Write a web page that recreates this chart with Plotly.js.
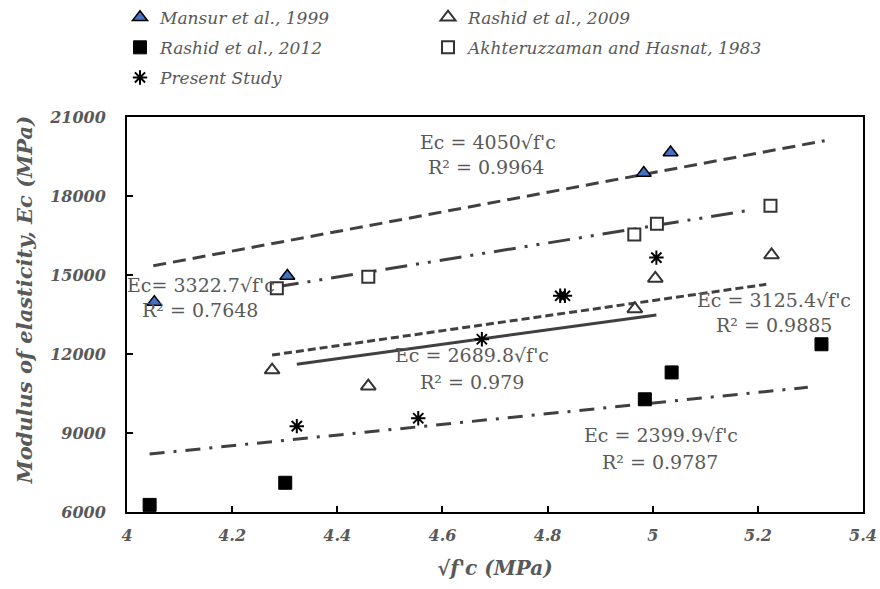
<!DOCTYPE html>
<html>
<head>
<meta charset="utf-8">
<script src="https://cdn.plot.ly/plotly-3.0.1.min.js"></script>
<style>html,body{margin:0;padding:0;background:#fff;}#chart{width:880px;height:589px;}</style>
</head>
<body>
<div id="chart"></div>
<script>
// ---- data ----
const seriesNames = ["Mansur et al., 1999", "Rashid et al., 2009", "Rashid et al., 2012", "Akhteruzzaman and Hasnat, 1983", "Present Study"];

const mansurX = [4.052, 4.305, 4.983, 5.034];
const mansurY = [13970, 14960, 18870, 19650];

const rashid2009X = [4.276, 4.459, 4.966, 5.005, 5.226];
const rashid2009Y = [11390, 10780, 13710, 14870, 15760];

const rashid2012X = [4.043, 4.301, 4.985, 5.036, 5.321];
const rashid2012Y = [6270, 7110, 10280, 11300, 12370];

const akhterX = [4.285, 4.459, 4.965, 5.008, 5.224];
const akhterY = [14500, 14930, 16540, 16950, 17630];

const presentX = [4.323, 4.554, 4.675, 4.824, 4.833, 5.007];
const presentY = [9260, 9560, 12560, 14210, 14210, 15660];

// trendline end points
const trendMansurX = [4.05, 5.327];   const trendMansurY = [15350, 20100];
const trendAkhterX = [4.285, 5.188];  const trendAkhterY = [14550, 17470];
const trendR2009X = [4.276, 5.216];   const trendR2009Y = [11960, 14645];
const trendPresentX = [4.323, 5.007]; const trendPresentY = [11610, 13480];
const trendR2012X = [4.043, 5.295];   const trendR2012Y = [8200, 10735];

const eqTexts = ["Ec = 4050\u221Af'c", "Ec= 3322.7\u221Af'c", "Ec = 3125.4\u221Af'c", "Ec = 2689.8\u221Af'c", "Ec = 2399.9\u221Af'c"];
const r2Texts = ["R\u00B2 = 0.9964", "R\u00B2 = 0.7648", "R\u00B2 = 0.9885", "R\u00B2 = 0.979", "R\u00B2 = 0.9787"];

const xTickVals = [4, 4.2, 4.4, 4.6, 4.8, 5, 5.2, 5.4];
const xTickText = ["4", "4.2", "4.4", "4.6", "4.8", "5", "5.2", "5.4"];
const yTickVals = [6000, 9000, 12000, 15000, 18000, 21000];
const yTickText = ["6000", "9000", "12000", "15000", "18000", "21000"];

// ---- styling ----
const gray = '#595959';
const lineCol = '#404040';
const serif = 'DejaVu Serif, serif';

function trend(x, y, dash) {
  return {x: x, y: y, mode: 'lines', type: 'scatter', showlegend: false, hoverinfo: 'skip',
          line: {color: lineCol, width: 3, dash: dash}};
}

const traces = [
  trend(trendMansurX, trendMansurY, '13px,7px'),
  trend(trendAkhterX, trendAkhterY, '22px,9px,3px,9px,3px,9px'),
  trend(trendR2009X, trendR2009Y, '8px,4px'),
  trend(trendPresentX, trendPresentY, 'solid'),
  trend(trendR2012X, trendR2012Y, '15px,9px,3px,9px'),
  {x: mansurX, y: mansurY, name: seriesNames[0], mode: 'markers', type: 'scatter', legend: 'legend', legendgroup: 'a',
   marker: {symbol: 'triangle-up', size: 13, color: '#4472C4', line: {color: '#000', width: 1.5}}},
  {x: rashid2009X, y: rashid2009Y, name: seriesNames[1], mode: 'markers', type: 'scatter', legend: 'legend2', legendgroup: 'b',
   marker: {symbol: 'triangle-up', size: 13, color: '#fff', line: {color: '#333', width: 2}}},
  {x: rashid2012X, y: rashid2012Y, name: seriesNames[2], mode: 'markers', type: 'scatter', legend: 'legend', legendgroup: 'c',
   marker: {symbol: 'square', size: 13, color: '#000', line: {color: '#000', width: 1}}},
  {x: akhterX, y: akhterY, name: seriesNames[3], mode: 'markers', type: 'scatter', legend: 'legend2', legendgroup: 'd',
   marker: {symbol: 'square', size: 12, color: '#fff', line: {color: '#333', width: 2}}},
  {x: presentX, y: presentY, name: seriesNames[4], mode: 'markers', type: 'scatter', legend: 'legend', legendgroup: 'e',
   marker: {symbol: 'asterisk-open', size: 12, color: '#000', line: {color: '#000', width: 2}}}
];

function ann(text, x, y) {
  return {text: text, x: x, y: y, xref: 'x', yref: 'y', showarrow: false,
          xanchor: 'center', yanchor: 'middle', font: {family: serif, size: 19, color: gray}};
}
// annotation centres in data units
const annotations = [
  ann(eqTexts[0], 4.687, 20050), ann(r2Texts[0], 4.683, 19100),
  ann(eqTexts[1], 4.14, 14620),  ann(r2Texts[1], 4.138, 13670),
  ann(eqTexts[2], 5.23, 14050),  ann(r2Texts[2], 5.23, 13100),
  ann(eqTexts[3], 4.656, 11960), ann(r2Texts[3], 4.656, 10950),
  ann(eqTexts[4], 5.015, 8920),  ann(r2Texts[4], 5.013, 7910),
  // y-axis title
  {text: 'Modulus of elasticity, Ec (MPa)', xref: 'paper', yref: 'paper', x: -0.139, y: 0.537,
   showarrow: false, textangle: -90, xanchor: 'center', yanchor: 'middle',
   font: {family: serif, size: 21, color: gray, weight: 'bold', style: 'italic'}}
];

const legendCommon = {orientation: 'v', yanchor: 'top', xanchor: 'left', itemwidth: 30,
  tracegroupgap: 5, bgcolor: 'rgba(0,0,0,0)',
  font: {family: serif, size: 17, color: gray, style: 'italic'}};

const layout = {
  width: 880, height: 589,
  paper_bgcolor: '#fff', plot_bgcolor: '#fff',
  margin: {l: 127, r: 17, t: 117, b: 77, autoexpand: false},
  font: {family: serif, color: gray},
  showlegend: true,
  legend: Object.assign({}, legendCommon, {x: -0.0095, y: 1.297}),
  legend2: Object.assign({}, legendCommon, {x: 0.409, y: 1.297}),
  xaxis: {range: [4, 5.4], tickvals: xTickVals, ticktext: xTickText, showgrid: false, zeroline: false,
          ticks: 'inside', ticklen: 6, tickwidth: 2, tickcolor: '#000',
          showline: true, linecolor: '#000', linewidth: 2, mirror: true,
          tickfont: {family: serif, size: 16, color: gray, weight: 'bold', style: 'italic'},
          ticklabelstandoff: 8,
          title: {text: "\u221Af'c (MPa)", standoff: 17,
                  font: {family: serif, size: 20, color: gray, weight: 'bold', style: 'italic'}}},
  yaxis: {range: [6000, 21000], tickvals: yTickVals, ticktext: yTickText, showgrid: false, zeroline: false,
          ticks: 'inside', ticklen: 6, tickwidth: 2, tickcolor: '#000',
          showline: true, linecolor: '#000', linewidth: 2, mirror: true,
          tickfont: {family: serif, size: 16, color: gray, weight: 'bold', style: 'italic'},
          ticklabelstandoff: 16},
  annotations: annotations
};

Plotly.newPlot('chart', traces, layout, {displayModeBar: false, staticPlot: true});
</script>
</body>
</html>
